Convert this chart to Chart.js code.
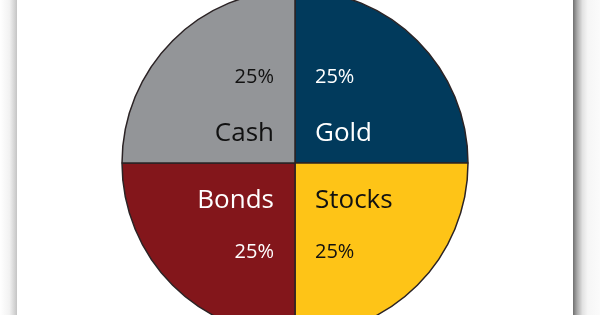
<!DOCTYPE html>
<html>
<head>
<meta charset="utf-8">
<script src="https://cdn.jsdelivr.net/npm/chart.js@4"></script>
<style>
html,body{margin:0;padding:0;width:600px;height:315px;overflow:hidden;background:#fff;}
#leftShadow{position:absolute;left:0;top:0;width:17px;height:315px;background:linear-gradient(to right,#ffffff 0%,#f2f2f2 55%,#d4d4d4 85%,#c4c4c4 100%);}
#rightShadow{position:absolute;left:573px;top:0;width:27px;height:315px;background:linear-gradient(to right,#6f6f6f 0%,#a8a8a8 15%,#e2e2e2 35%,#f6f6f6 55%,#fbfbfb 100%);}
#wrap{position:absolute;left:0;top:-10px;width:590px;height:346px;}
</style>
</head>
<body>
<div id="leftShadow"></div>
<div id="rightShadow"></div>
<div id="wrap"><canvas id="c"></canvas></div>
<script>
const categories = ["Gold", "Stocks", "Bonds", "Cash"];
const values = [25, 25, 25, 25];
const sliceColors = ["#013a5c", "#fec417", "#83161b", "#939598"];
const textColors = ["#ffffff", "#111111", "#ffffff", "#111111"];

const labelPlugin = {
  id: 'quadLabels',
  afterDatasetsDraw(chart) {
    const ctx = chart.ctx;
    const meta = chart.getDatasetMeta(0);
    const total = values.reduce((a, b) => a + b, 0);
    meta.data.forEach((arc, i) => {
      const p = arc.getProps(['x', 'y', 'startAngle', 'endAngle'], true);
      const mid = (p.startAngle + p.endAngle) / 2;
      const right = Math.cos(mid) > 0;
      const bottom = Math.sin(mid) > 0;
      const pct = Math.round(values[i] / total * 100) + '%';
      const tx = right ? p.x + 20 : p.x - 21;
      ctx.save();
      ctx.fillStyle = textColors[i];
      ctx.textAlign = right ? 'left' : 'right';
      ctx.textBaseline = 'alphabetic';
      let nameY, pctY;
      if (bottom) { nameY = p.y + 45; pctY = p.y + 95; }
      else { nameY = p.y - 22; pctY = p.y - 80; }
      ctx.font = '26px "Open Sans"';
      ctx.fillText(categories[i], tx, nameY);
      ctx.font = '20px "Open Sans"';
      ctx.fillText(pct, tx, pctY);
      ctx.restore();
    });
  }
};

new Chart(document.getElementById('c'), {
  type: 'pie',
  data: {
    labels: categories,
    datasets: [{
      data: values,
      backgroundColor: sliceColors,
      borderColor: '#2b2325',
      borderWidth: 1.5,
      hoverOffset: 0
    }]
  },
  options: {
    responsive: true,
    maintainAspectRatio: false,
    animation: false,
    radius: 173,
    layout: { padding: 0 },
    events: [],
    plugins: {
      legend: { display: false },
      tooltip: { enabled: false }
    }
  },
  plugins: [labelPlugin]
});
</script>
</body>
</html>
